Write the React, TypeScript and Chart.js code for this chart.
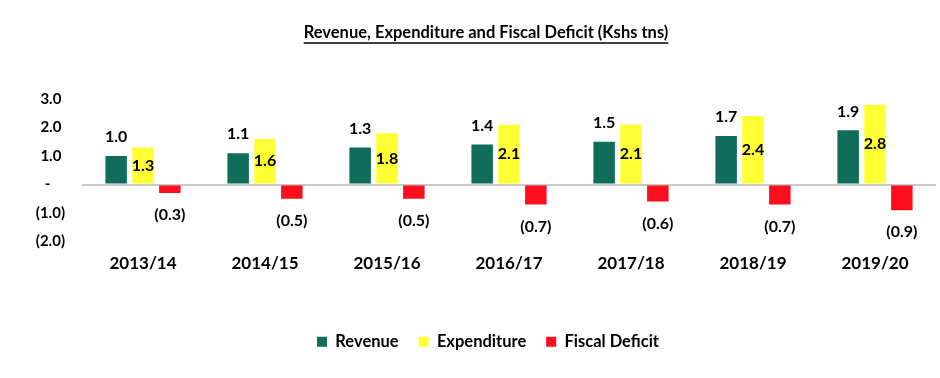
import React, { useEffect, useRef } from "react";
import { Chart, registerables } from "chart.js";

Chart.register(...registerables);

const TITLE = "Revenue, Expenditure and Fiscal Deficit (Kshs tns)";
const categories = ["2013/14", "2014/15", "2015/16", "2016/17", "2017/18", "2018/19", "2019/20"];
const revenue = [1.0, 1.1, 1.3, 1.4, 1.5, 1.7, 1.9];
const expenditure = [1.3, 1.6, 1.8, 2.1, 2.1, 2.4, 2.8];
const fiscalDeficit = [-0.3, -0.5, -0.5, -0.7, -0.6, -0.7, -0.9];
const seriesNames = ["Revenue", "Expenditure", "Fiscal Deficit"];
const seriesColors = ["#0F6D5A", "#FFFF33", "#FF0D1D"];
const yMin = -2;
const yMax = 3;

const FONT = "Lato, 'Open Sans', sans-serif";

const fmt = (v: number) => (v < 0 ? `(${Math.abs(v).toFixed(1)})` : v.toFixed(1));
const fmtTick = (v: number) => {
  if (v === 0) return "-    ";
  if (v < 0) return `(${Math.abs(v).toFixed(1)})`;
  return v.toFixed(1) + " ";
};

const customPlugin = {
  id: "customDecor",
  afterLayout(chart: any) {
    const l = chart.legend;
    if (l) {
      l.left += 20;
      l.right += 20;
    }
  },
  afterDatasetsDraw(chart: any) {
    const ctx = chart.ctx;
    ctx.save();
    ctx.font = `bold 16px ${FONT}`;
    ctx.fillStyle = "#000";
    ctx.textAlign = "center";
    ctx.textBaseline = "middle";
    chart.data.datasets.forEach((ds: any, di: number) => {
      const meta = chart.getDatasetMeta(di);
      meta.data.forEach((bar: any, i: number) => {
        const v = ds.data[i] as number;
        const p = bar.getProps(["x", "y", "base"], true);
        let ty: number;
        if (di === 0) ty = p.y - 19;
        else if (di === 1) ty = (p.y + p.base) / 2;
        else ty = p.y + 22;
        ctx.fillText(fmt(v), p.x, ty);
      });
    });
    ctx.restore();
  },
  afterDraw(chart: any) {
    const ctx = chart.ctx;
    ctx.save();
    ctx.font = `bold 16.5px ${FONT}`;
    ctx.fillStyle = "#000";
    ctx.textAlign = "center";
    ctx.textBaseline = "middle";
    const cx = 486;
    const cy = 33;
    ctx.fillText(TITLE, cx, cy);
    const w = ctx.measureText(TITLE).width;
    ctx.strokeStyle = "#000";
    ctx.lineWidth = 1.6;
    ctx.beginPath();
    ctx.moveTo(cx - w / 2, cy + 10);
    ctx.lineTo(cx + w / 2, cy + 10);
    ctx.stroke();
    ctx.restore();
  },
};

export default function App() {
  const ref = useRef<HTMLCanvasElement | null>(null);

  useEffect(() => {
    document.body.style.margin = "0";
    if (!ref.current) return;
    const chart = new Chart(ref.current, {
      type: "bar",
      data: {
        labels: categories,
        datasets: [revenue, expenditure, fiscalDeficit].map((d, i) => ({
          label: seriesNames[i],
          data: d,
          backgroundColor: seriesColors[i],
          borderWidth: 0,
          categoryPercentage: 0.66,
          barPercentage: 0.8,
        })),
      },
      options: {
        animation: false,
        responsive: true,
        maintainAspectRatio: false,
        layout: { padding: { top: 99, right: 4, left: 0, bottom: 18 } },
        plugins: {
          title: { display: false },
          tooltip: { enabled: false },
          legend: {
            position: "bottom",
            labels: {
              boxWidth: 10,
              boxHeight: 10,
              padding: 20,
              color: "#000",
              font: { family: FONT, size: 16.5, weight: "bold" },
            },
          },
        },
        scales: {
          x: {
            grid: { display: false, drawTicks: false },
            border: { display: false },
            ticks: {
              padding: 12,
              color: "#000",
              font: { family: FONT, size: 17, weight: "bold" },
            },
            afterFit: (s: any) => {
              s.height = 72;
            },
          },
          y: {
            min: yMin,
            max: yMax,
            border: { display: false },
            grid: {
              drawTicks: false,
              lineWidth: 2,
              color: (c: any) => (c.tick && c.tick.value === 0 ? "#C8C8C8" : "rgba(0,0,0,0)"),
            },
            ticks: {
              stepSize: 1,
              padding: 17,
              color: "#000",
              font: { family: FONT, size: 15, weight: "bold" },
              callback: (v: any) => fmtTick(Number(v)),
            },
            afterFit: (s: any) => {
              s.width = 82;
            },
          },
        },
      },
      plugins: [customPlugin],
    });
    return () => chart.destroy();
  }, []);

  return (
    <div style={{ width: 940, height: 378, position: "relative", background: "#fff" }}>
      <canvas ref={ref} />
    </div>
  );
}
